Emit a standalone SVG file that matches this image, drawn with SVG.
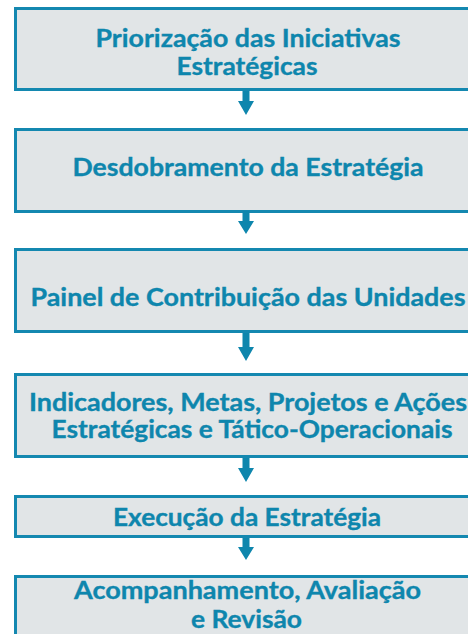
<svg xmlns="http://www.w3.org/2000/svg" width="468" height="634" viewBox="0 0 468 634">
<style>
.box{fill:#e1e5e7;stroke:#1488b0;stroke-width:3}
.t{font-family:Lato,"Open Sans","Liberation Sans",sans-serif;font-weight:bold;font-size:24px;fill:#0e86ad;text-anchor:middle;stroke:#0e86ad;stroke-width:0.35}
.arr{fill:#0e86ad}
</style>
<rect width="468" height="634" fill="#ffffff"/>
<g id="n1"><rect class="box" x="15.5" y="8.5" width="465" height="81"/>
<text class="t" x="248" y="47" textLength="305" lengthAdjust="spacingAndGlyphs">Priorização das Iniciativas</text>
<text class="t" x="247" y="75" textLength="141" lengthAdjust="spacingAndGlyphs">Estratégicas</text></g>
<g id="n2"><rect class="box" x="15.5" y="129.5" width="465" height="82"/>
<text class="t" x="248" y="176" textLength="351" lengthAdjust="spacingAndGlyphs">Desdobramento da Estratégia</text></g>
<g id="n3"><rect class="box" x="15.5" y="249.5" width="465" height="82"/>
<text class="t" x="248" y="306" textLength="435" lengthAdjust="spacingAndGlyphs">Painel de Contribuição das Unidades</text></g>
<g id="n4"><rect class="box" x="15.5" y="374.5" width="465" height="82"/>
<text class="t" x="248" y="411" textLength="438" lengthAdjust="spacingAndGlyphs">Indicadores, Metas, Projetos e Ações</text>
<text class="t" x="252" y="438" textLength="401" lengthAdjust="spacingAndGlyphs">Estratégicas e Tático-Operacionais</text></g>
<g id="n5"><rect class="box" x="15.5" y="496.5" width="465" height="40"/>
<text class="t" x="247" y="526" textLength="268" lengthAdjust="spacingAndGlyphs">Execução da Estratégia</text></g>
<g id="n6"><rect class="box" x="15.5" y="576.5" width="465" height="82"/>
<text class="t" x="247.5" y="599" textLength="347" lengthAdjust="spacingAndGlyphs">Acompanhamento, Avaliação</text>
<text class="t" x="246.5" y="628" textLength="111" lengthAdjust="spacingAndGlyphs">e Revisão</text></g>
<g id="connectors">
<path class="arr" d="M242.5 91 H249.5 V101 H254 L246 115 L238 101 H242.5 Z"/>
<path class="arr" d="M242.5 211 H249.5 V221 H254 L246 234 L238 221 H242.5 Z"/>
<path class="arr" d="M242.5 333 H249.5 V347 H254 L246 361 L238 347 H242.5 Z"/>
<path class="arr" d="M242.5 458 H249.5 V468 H254 L246 482 L238 468 H242.5 Z"/>
<path class="arr" d="M242.5 538 H249.5 V547 H254 L246 560 L238 547 H242.5 Z"/>
</g>
</svg>
